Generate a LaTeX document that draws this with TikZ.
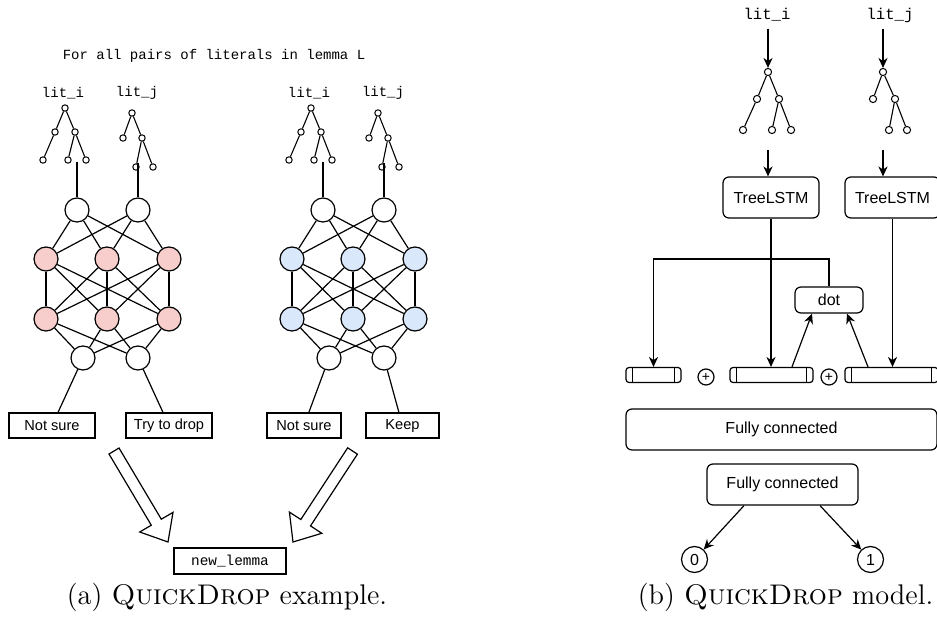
\documentclass[tikz,border=0pt]{standalone}
\usepackage{fontspec}
\newfontfamily\helv{Liberation Sans}
\newfontfamily\cour{Liberation Mono}
\usetikzlibrary{arrows.meta,calc}
\definecolor{pinkfill}{RGB}{248,206,204}
\definecolor{bluefill}{RGB}{218,232,252}

% one literal-pair network: two literal trees, 2-3-3-2 fully connected layers
\newcommand\litnet[1]{%
  \node[monosmall] (li) at (63,93) {lit\_i};
  \node[monosmall] (lj) at (137,93) {lit\_j};
  \node[leaf] (a0) at (65,108) {};
  \node[leaf] (a1) at (55,132) {};
  \node[leaf] (a2) at (75,132) {};
  \node[leaf] (a3) at (43,160) {};
  \node[leaf] (a4) at (68,160) {};
  \node[leaf] (a5) at (86,160) {};
  \draw[twig] (a0)--(a1) (a0)--(a2) (a1)--(a3) (a2)--(a4) (a2)--(a5);
  \node[leaf] (b0) at (132,113) {};
  \node[leaf] (b1) at (123,138) {};
  \node[leaf] (b2) at (142,138) {};
  \node[leaf] (b3) at (136,167) {};
  \node[leaf] (b4) at (153,167) {};
  \draw[twig] (b0)--(b1) (b0)--(b2) (b2)--(b3) (b2)--(b4);
  \node[neuron] (in1) at (77,210) {};
  \node[neuron] (in2) at (138,210) {};
  \foreach \n/\x in {1/46,2/107,3/169} {
    \node[neuron,fill=#1] (h\n) at (\x,259) {};
    \node[neuron,fill=#1] (g\n) at (\x,319) {};
  }
  \node[neuron] (o1) at (83,358) {};
  \node[neuron] (o2) at (138,358) {};
  \coordinate (ta) at (77,162);
  \coordinate (tb) at (138,163);
  \draw[wire] (ta) -- (in1);
  \draw[wire] (tb) -- (in2);
  \foreach \i in {1,2} \foreach \j in {1,2,3} \draw[wire] (in\i) -- (h\j);
  \foreach \i in {1,2,3} \foreach \j in {1,2,3} \draw[wire] (h\i) -- (g\j);
  \foreach \i in {1,2,3} \foreach \j in {1,2} \draw[wire] (g\i) -- (o\j);
}

\begin{document}
\begin{tikzpicture}[x=0.5pt,y=-0.5pt,
  wire/.style={line width=0.6pt},
  twig/.style={line width=0.55pt},
  neuron/.style={circle,draw,line width=0.6pt,minimum size=12pt,inner sep=0pt,fill=white},
  leaf/.style={circle,draw,line width=0.5pt,minimum size=3.2pt,inner sep=0pt,fill=white},
  bigleaf/.style={leaf,minimum size=3.6pt},
  monosmall/.style={font=\cour\fontsize{7}{8}\selectfont},
  monolab/.style={font=\cour\fontsize{7.8}{9}\selectfont},
  choice/.style={draw,line width=0.6pt,font=\helv\fontsize{7.3}{8}\selectfont,minimum height=12.5pt,inner sep=0pt},
  rbox/.style={draw,rounded corners=3pt,line width=0.6pt,font=\helv\fontsize{8}{9}\selectfont,inner sep=0pt},
  vec/.style={draw,rounded corners=1.5pt,line width=0.6pt,minimum height=7.5pt,inner sep=0pt,
    path picture={
      \draw[line width=0.6pt] ([xshift=3.2pt]path picture bounding box.north west) -- ([xshift=3.2pt]path picture bounding box.south west);
      \draw[line width=0.6pt] ([xshift=-3.2pt]path picture bounding box.north east) -- ([xshift=-3.2pt]path picture bounding box.south east);}},
  oplus/.style={circle,draw,line width=0.6pt,minimum size=8pt,inner sep=0pt,font=\helv\fontsize{7}{8}\selectfont},
  outc/.style={circle,draw,line width=0.6pt,minimum size=13pt,inner sep=0pt,font=\helv\fontsize{8}{9}\selectfont},
  arr/.style={line width=0.6pt,-{Stealth[length=5pt,width=4.6pt,inset=1.6pt]}},
  hollow/.style={draw,line width=0.6pt,fill=white,line join=miter}
]
\useasboundingbox (0,0) rectangle (937,625);

% ---------------- (a) example ----------------
\node[monosmall] (title) at (214,56) {For all pairs of literals in lemma L};

\begin{scope}[name prefix=L-]
  \litnet{pinkfill}
  \node[choice,minimum width=43pt] (ns) at (52,425.5) {Not sure};
  \node[choice,minimum width=43pt] (td) at (169,425.5) {Try to drop};
  \draw[wire] (o1) -- (ns);
  \draw[wire] (o2) -- (td);
\end{scope}

\begin{scope}[xshift=123pt,name prefix=R-]
  \litnet{bluefill}
  \node[choice,minimum width=37pt] (ns) at (58,425.5) {Not sure};
  \node[choice,minimum width=36.5pt] (kp) at (156.5,425.5) {Keep};
  \draw[wire] (o1) -- (ns);
  \draw[wire] (o2) -- (kp);
\end{scope}

\node[draw,line width=0.6pt,minimum width=56pt,minimum height=13pt,inner sep=0pt,
  font=\cour\fontsize{7.2}{8}\selectfont] (nl) at (230,561) {new\_lemma};

% hollow block arrows towards the new lemma
\draw[hollow] (109,454) -- (151.3,525.2) -- (139.7,532) -- (168,542)
  -- (173,512.4) -- (161.3,519.2) -- (119,448) -- cycle;
\draw[hollow] (357.4,454.2) -- (310.5,525.9) -- (321.8,533.3) -- (293,542)
  -- (289.4,512.1) -- (300.8,519.5) -- (347.7,447.8) -- cycle;

\node[font=\fontsize{14.2}{17}\selectfont,anchor=base] (capa) at (227,604) {(a) \textsc{QuickDrop} example.};

% ---------------- (b) model ----------------
\node[monolab] (bli) at (767,15) {lit\_i};
\node[monolab] (blj) at (890,15) {lit\_j};

\node[bigleaf] (p0) at (768,72) {};
\node[bigleaf] (p1) at (757,99) {};
\node[bigleaf] (p2) at (779,99) {};
\node[bigleaf] (p3) at (743,130) {};
\node[bigleaf] (p4) at (772,130) {};
\node[bigleaf] (p5) at (791,130) {};
\draw[twig] (p0)--(p1) (p0)--(p2) (p1)--(p3) (p2)--(p4) (p2)--(p5);
\node[bigleaf] (q0) at (883,72) {};
\node[bigleaf] (q1) at (873,99) {};
\node[bigleaf] (q2) at (895,99) {};
\node[bigleaf] (q3) at (889,130) {};
\node[bigleaf] (q4) at (907,130) {};
\draw[twig] (q0)--(q1) (q0)--(q2) (q2)--(q3) (q2)--(q4);

\draw[arr] (bli.south -| p0) -- (p0);
\draw[arr] (blj.south -| q0) -- (q0);

\node[rbox,minimum width=48pt,minimum height=20.5pt] (tl1) at (771,197.5) {TreeLSTM};
\node[rbox,minimum width=47.5pt,minimum height=20.5pt] (tl2) at (892.5,197.5) {TreeLSTM};
\coordinate (pt) at (768,150);
\coordinate (qt) at (883,150);
\draw[arr] (pt) -- (pt |- tl1.north);
\draw[arr] (qt) -- (qt |- tl2.north);

\node[rbox,minimum width=34pt,minimum height=13pt] (dot) at (829,300) {dot};

\node[vec,minimum width=27.5pt] (v1) at (653.5,375) {};
\node[vec,minimum width=41.5pt] (v2) at (771.5,375) {};
\node[vec,minimum width=46.5pt] (v3) at (891.5,375) {};
\node[oplus] (s1) at (706,377) {+};
\node[oplus] (s2) at (829,377) {+};

\draw[arr] (tl1.south) -- (tl1.south |- v2.north);
\draw[arr] (tl2.south) -- (tl2.south |- v3.north);
\coordinate (bend) at (829,259);
\draw[arr] (dot.north) -- (bend) -| (v1.north);
\draw[arr] ([xshift=10.25pt]v2.north) -- ([xshift=-8.5pt]dot.south);
\draw[arr] ([xshift=-11.75pt]v3.north) -- ([xshift=9pt]dot.south);

\node[rbox,minimum width=155.5pt,minimum height=20.5pt] (fc1) at (781.5,429.5) {Fully connected};
\node[rbox,minimum width=75.5pt,minimum height=20.5pt] (fc2) at (782.5,484.5) {Fully connected};

\node[outc] (c0) at (694.5,559.5) {0};
\node[outc] (c1) at (870.5,559.5) {1};
\draw[arr] ([xshift=-19.25pt]fc2.south) -- (c0);
\draw[arr] ([xshift=18.75pt]fc2.south) -- (c1);

\node[font=\fontsize{14.2}{17}\selectfont,anchor=base] (capb) at (785.5,604) {(b) \textsc{QuickDrop} model.};
\end{tikzpicture}
\end{document}
